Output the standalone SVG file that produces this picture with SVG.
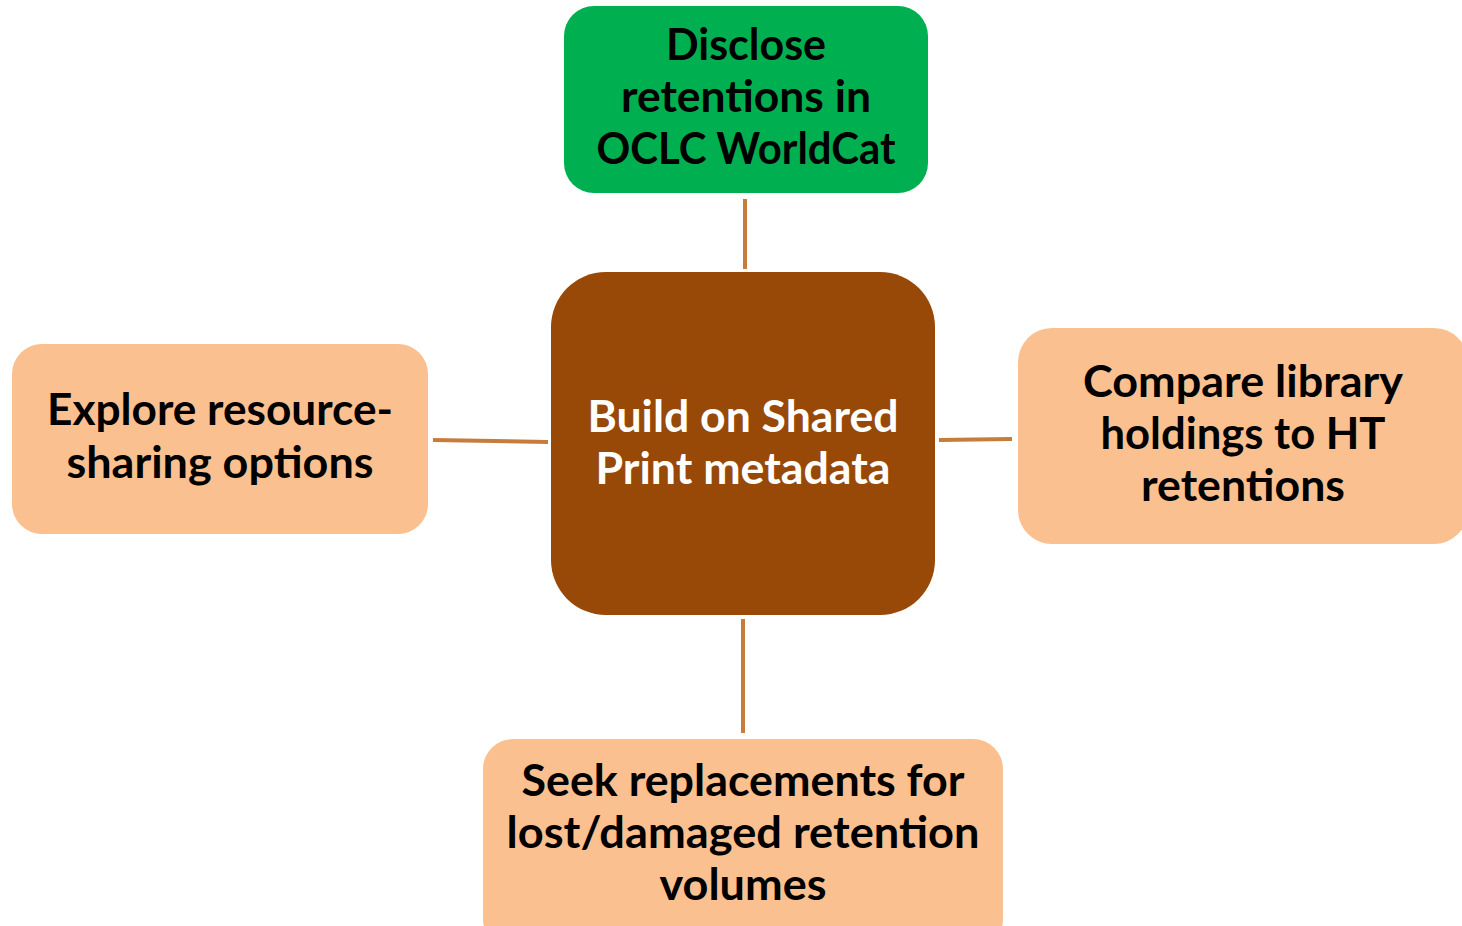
<svg xmlns="http://www.w3.org/2000/svg" width="1462" height="926" viewBox="0 0 1462 926">
  <style>
    .lbl { font-family: Lato, "Open Sans", "Liberation Sans", sans-serif; font-weight: bold; font-size: 43px; text-anchor: middle; fill: #000; }
    .white { fill: #fff; }
    .peach { fill: #FAC090; }
    .conn { stroke: #C77C3B; stroke-width: 4; fill: none; }
  </style>
  <rect width="1462" height="926" fill="#fff"/>
  <g id="connectors">
    <line class="conn" x1="745" y1="199" x2="745" y2="269"/>
    <line class="conn" x1="433" y1="440" x2="548" y2="442"/>
    <line class="conn" x1="939" y1="440" x2="1012" y2="439"/>
    <line class="conn" x1="743" y1="619" x2="743" y2="733"/>
  </g>
  <g id="node-disclose">
    <rect x="564" y="6" width="364" height="187" rx="30" fill="#00B050"/>
    <text class="lbl" x="746" y="60" textLength="160" lengthAdjust="spacingAndGlyphs">Disclose</text>
    <text class="lbl" x="746" y="112" textLength="250" lengthAdjust="spacingAndGlyphs">retentions in</text>
    <text class="lbl" x="746" y="164" textLength="299" lengthAdjust="spacingAndGlyphs">OCLC WorldCat</text>
  </g>
  <g id="node-center">
    <rect x="551" y="272" width="384" height="343" rx="55" fill="#984807"/>
    <text class="lbl white" x="743" y="432" textLength="311" lengthAdjust="spacingAndGlyphs">Build on Shared</text>
    <text class="lbl white" x="743" y="484" textLength="295" lengthAdjust="spacingAndGlyphs">Print metadata</text>
  </g>
  <g id="node-explore">
    <rect class="peach" x="12" y="344" width="416" height="190" rx="30"/>
    <text class="lbl" x="220" y="425" textLength="346" lengthAdjust="spacingAndGlyphs">Explore resource-</text>
    <text class="lbl" x="220" y="478" textLength="307" lengthAdjust="spacingAndGlyphs">sharing options</text>
  </g>
  <g id="node-compare">
    <rect class="peach" x="1018" y="328" width="450" height="216" rx="34"/>
    <text class="lbl" x="1243" y="397" textLength="320" lengthAdjust="spacingAndGlyphs">Compare library</text>
    <text class="lbl" x="1243" y="449" textLength="285" lengthAdjust="spacingAndGlyphs">holdings to HT</text>
    <text class="lbl" x="1243" y="501" textLength="204" lengthAdjust="spacingAndGlyphs">retentions</text>
  </g>
  <g id="node-seek">
    <rect class="peach" x="483" y="739" width="520" height="210" rx="30"/>
    <text class="lbl" x="743" y="796" textLength="443" lengthAdjust="spacingAndGlyphs">Seek replacements for</text>
    <text class="lbl" x="743" y="848" textLength="473" lengthAdjust="spacingAndGlyphs">lost/damaged retention</text>
    <text class="lbl" x="743" y="900" textLength="167" lengthAdjust="spacingAndGlyphs">volumes</text>
  </g>
</svg>
